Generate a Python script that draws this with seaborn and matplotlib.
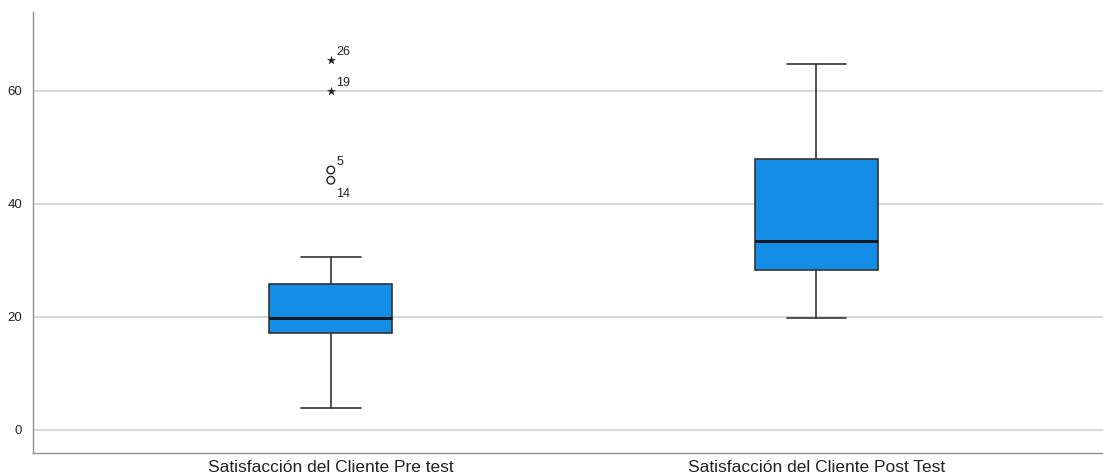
import matplotlib
matplotlib.use("Agg")
import matplotlib.pyplot as plt
import seaborn as sns
import pandas as pd

# Group labels and five-number summaries (whisker low, Q1, median, Q3, whisker high)
groups = ["Satisfacción del Cliente Pre test", "Satisfacción del Cliente Post Test"]
whisker_low = [3.9, 19.9]
q1 = [17.2, 28.4]
median = [19.8, 33.5]
q3 = [25.8, 48.0]
whisker_high = [30.6, 64.8]

# Outlying cases (group index, value, case id, kind)
out_group = [0, 0, 0, 0]
out_value = [65.5, 60.0, 46.0, 44.2]
out_case = ["26", "19", "5", "14"]
out_kind = ["extreme", "extreme", "mild", "mild"]

yticks = [0, 20, 40, 60]

sns.set_theme(style="white")
plt.rcParams["font.family"] = ["Liberation Sans", "DejaVu Sans"]

fig = plt.figure(figsize=(11.03, 4.74), dpi=100)
ax = fig.add_axes([0.030, 0.044, 0.970, 0.931])

stats = []
for i, g in enumerate(groups):
    stats.append({
        "label": g, "whislo": whisker_low[i], "q1": q1[i], "med": median[i],
        "q3": q3[i], "whishi": whisker_high[i], "fliers": [],
    })

ax.bxp(
    stats, positions=[0, 1], widths=0.253, patch_artist=True, showfliers=False,
    boxprops=dict(facecolor="#148de6", edgecolor="#333333", linewidth=1.2),
    medianprops=dict(color="#111111", linewidth=2.0),
    whiskerprops=dict(color="#333333", linewidth=1.2),
    capprops=dict(color="#333333", linewidth=1.2),
    capwidths=0.123, zorder=3,
)

# Outliers: open circles for mild, stars for extreme cases
df = pd.DataFrame({"g": out_group, "v": out_value, "case": out_case, "kind": out_kind})
mild = df[df.kind == "mild"]
extreme = df[df.kind == "extreme"]
sns.scatterplot(x=mild.g, y=mild.v, ax=ax, marker="o", s=30,
                facecolor="none", edgecolor="#222222", linewidth=1.0, zorder=4)
sns.scatterplot(x=extreme.g, y=extreme.v, ax=ax, marker="*", s=35,
                color="#222222", edgecolor="#222222", linewidth=0.3, zorder=4)

for g, v, c in zip(df.g, df.v, df.case):
    if c == "14":
        ax.annotate(c, (g, v), xytext=(4, -10), textcoords="offset points",
                    fontsize=9, color="#222222", va="center")
    else:
        ax.annotate(c, (g, v), xytext=(4, 6), textcoords="offset points",
                    fontsize=9, color="#222222", va="center")

ax.set_xlim(-0.613, 1.59)
ax.set_ylim(-4.1, 74.0)
ax.set_yticks(yticks)
ax.set_xticks([0, 1])
ax.set_xticklabels(groups)
ax.set_xlabel("")
ax.set_ylabel("")
ax.tick_params(axis="y", labelsize=9.5, length=0, pad=8, colors="#222222")
ax.tick_params(axis="x", labelsize=12.5, length=0, pad=5, colors="#222222")

ax.yaxis.grid(True, color="#d6d6d6", linewidth=1.4, zorder=0)
ax.set_axisbelow(True)
for side in ["top", "right"]:
    ax.spines[side].set_visible(False)
for side in ["left", "bottom"]:
    ax.spines[side].set_color("#8f8f8f")
    ax.spines[side].set_linewidth(1.0)

fig.savefig("out.png", dpi=100)
